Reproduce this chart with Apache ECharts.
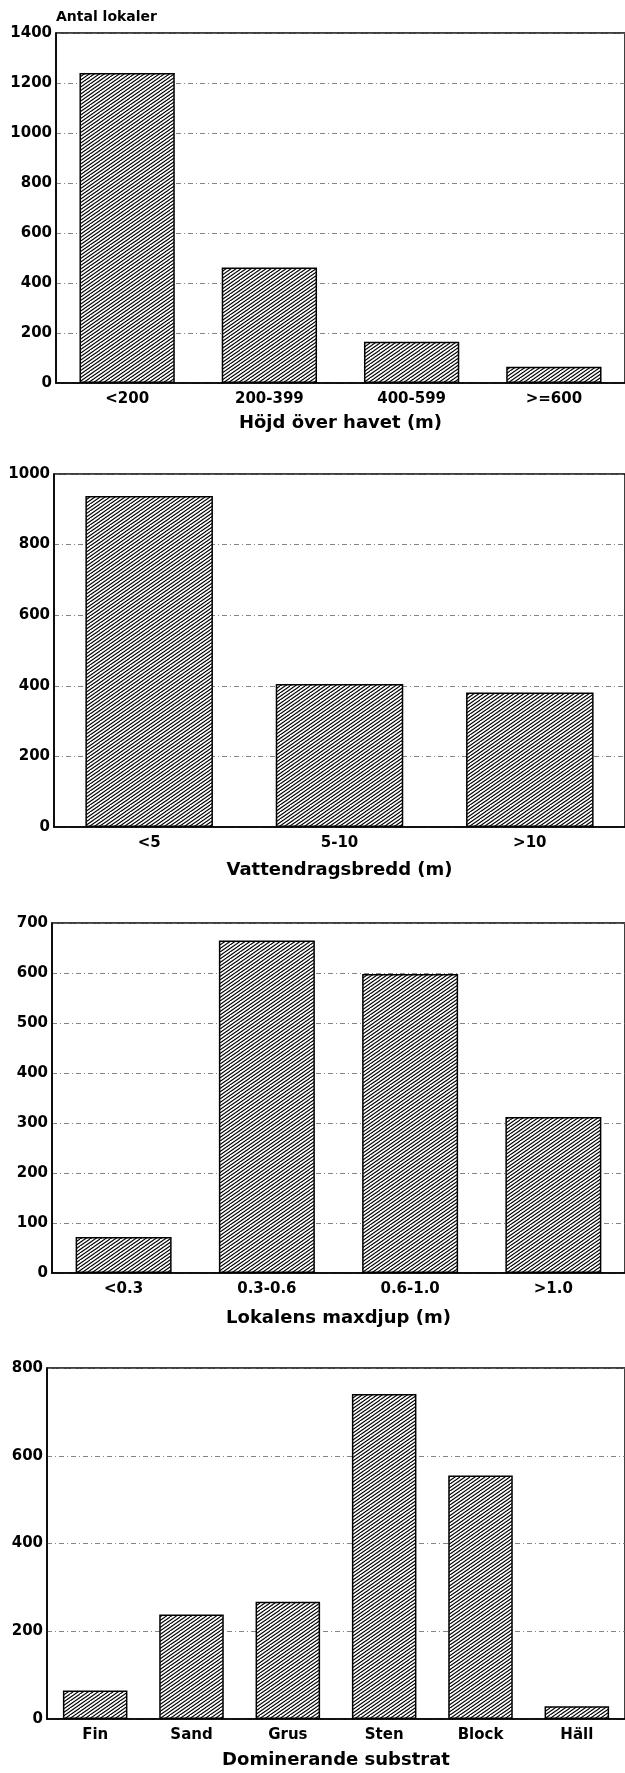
<!DOCTYPE html>
<html><head><meta charset="utf-8">
<script src="https://cdn.jsdelivr.net/npm/echarts@6/dist/echarts.min.js"></script>
<style>html,body{margin:0;padding:0;background:#fff}#c{width:625px;height:1773px}</style>
</head><body><div id="c"></div>
<script>
// ---- data ----
const hojdCategories = ['<200', '200-399', '400-599', '>=600'];
const hojdValues = [1240, 462, 165, 65];
const breddCategories = ['<5', '5-10', '>10'];
const breddValues = [938, 405, 381];
const djupCategories = ['<0.3', '0.3-0.6', '0.6-1.0', '>1.0'];
const djupValues = [72, 665, 598, 312];
const substratCategories = ['Fin', 'Sand', 'Grus', 'Sten', 'Block', 'Häll'];
const substratValues = [65, 238, 267, 741, 555, 29];
const axisTitles = ['Höjd över havet (m)', 'Vattendragsbredd (m)', 'Lokalens maxdjup (m)', 'Dominerande substrat'];
const yAxisName = 'Antal lokaler';
const yMax = [1400, 1000, 700, 800];
const yStep = [200, 200, 100, 200];

// ---- layout / style ----
const grids = [
  {left: 56, top: 33, width: 572, height: 350},
  {left: 54, top: 474, width: 573, height: 353},
  {left: 52, top: 923, width: 584, height: 350},
  {left: 47, top: 1368, width: 586, height: 351}
];
const nameGaps = [31, 34, 36, 32];
const FONT = 'DejaVu Sans';

function hatch() {
  const w = 10, h = 7;
  const c = document.createElement('canvas');
  c.width = w; c.height = h;
  const g = c.getContext('2d');
  g.fillStyle = '#fff'; g.fillRect(0, 0, w, h);
  g.strokeStyle = '#000'; g.lineWidth = 1.1;
  g.beginPath();
  // lines with slope h/w, vertical spacing h/2
  const seg = (x0, y0, x1, y1) => { g.moveTo(x0, y0); g.lineTo(x1, y1); };
  const ext = 2;
  seg(-ext, h + ext * h / w, w + ext, -ext * h / w);
  seg(-ext, h / 2 + ext * h / w, w / 2 + ext, -ext * h / w);
  seg(w / 2 - ext, h + ext * h / w, w + ext, h / 2 - ext * h / w);
  seg(-ext - w / 2, h + ext * h / w, w / 2 + ext - w / 2, h / 2 - ext * h / w);
  seg(w - ext, h + ext * h / w, w + ext, h - ext * h / w);
  g.stroke();
  return c;
}
const pattern = {image: hatch(), repeat: 'repeat'};

const cats = [hojdCategories, breddCategories, djupCategories, substratCategories];
const vals = [hojdValues, breddValues, djupValues, substratValues];

const option = {
  animation: false,
  backgroundColor: '#fff',
  grid: grids.map(g => Object.assign({show: true, borderColor: '#000', borderWidth: 1.5, backgroundColor: 'transparent'}, g)),
  xAxis: cats.map((c, i) => ({
    type: 'category', gridIndex: i, data: c,
    name: axisTitles[i], nameLocation: 'middle', nameGap: nameGaps[i],
    nameTextStyle: {fontFamily: FONT, fontWeight: 'bold', fontSize: 18, color: '#000'},
    axisLine: {lineStyle: {color: '#000', width: 1.5}},
    axisTick: {show: false},
    axisLabel: {fontFamily: FONT, fontWeight: 'bold', fontSize: 15, color: '#000', margin: 9}
  })),
  yAxis: yMax.map((m, i) => ({
    type: 'value', gridIndex: i, min: 0, max: m, interval: yStep[i],
    name: i === 0 ? yAxisName : '', nameLocation: 'end', nameGap: 9,
    nameTextStyle: {fontFamily: FONT, fontWeight: 'bold', fontSize: 14, color: '#000', align: 'left'},
    axisLine: {show: true, lineStyle: {color: '#000', width: 1.5}},
    axisTick: {show: false},
    axisLabel: {fontFamily: FONT, fontWeight: 'bold', fontSize: 15, color: '#000', margin: 4,
                formatter: v => String(v)},
    splitLine: {show: true, lineStyle: {color: '#666', width: 0.8, type: [5, 3, 1, 3]}}
  })),
  series: vals.map((v, i) => ({
    type: 'bar', xAxisIndex: i, yAxisIndex: i, data: v,
    barCategoryGap: '33%',
    itemStyle: {color: pattern, borderColor: '#000', borderWidth: 1.5}
  }))
};
echarts.init(document.getElementById('c')).setOption(option);
</script></body></html>
